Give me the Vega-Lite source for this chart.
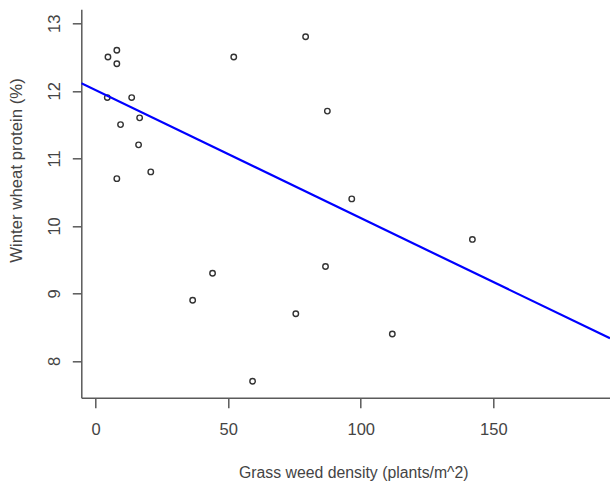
{
  "$schema": "https://vega.github.io/schema/vega-lite/v6.json",
  "autosize": {"type": "none"},
  "width": 528.7,
  "height": 388.4,
  "padding": {"left": 81.3, "top": 9.3, "right": 0, "bottom": 85.3},
  "background": "white",
  "config": {
    "view": {"stroke": null},
    "font": "Liberation Sans",
    "axis": {
      "grid": false,
      "domainColor": "#5a5a5a",
      "domainWidth": 1.5,
      "tickColor": "#5a5a5a",
      "tickWidth": 1.5,
      "labelColor": "#444444",
      "titleColor": "#444444",
      "labelFont": "Liberation Sans",
      "titleFont": "Liberation Sans",
      "labelFontSize": 16.5,
      "titleFontWeight": "normal"
    }
  },
  "datasets": {
    "points": [
      {"density": 4.65, "protein": 12.5},
      {"density": 8.0, "protein": 12.6},
      {"density": 8.0, "protein": 12.4},
      {"density": 4.4, "protein": 11.9},
      {"density": 13.6, "protein": 11.9},
      {"density": 9.4, "protein": 11.5},
      {"density": 16.6, "protein": 11.6},
      {"density": 16.2, "protein": 11.2},
      {"density": 20.8, "protein": 10.8},
      {"density": 8.0, "protein": 10.7},
      {"density": 52.1, "protein": 12.5},
      {"density": 79.2, "protein": 12.8},
      {"density": 87.4, "protein": 11.7},
      {"density": 96.6, "protein": 10.4},
      {"density": 142.1, "protein": 9.8},
      {"density": 86.7, "protein": 9.4},
      {"density": 44.1, "protein": 9.3},
      {"density": 36.6, "protein": 8.9},
      {"density": 75.5, "protein": 8.7},
      {"density": 111.9, "protein": 8.4},
      {"density": 59.2, "protein": 7.7}
    ],
    "fit": [
      {"density": -5.4, "protein": 12.112},
      {"density": 194.0, "protein": 8.336}
    ]
  },
  "layer": [
    {
      "data": {"name": "points"},
      "mark": {"type": "point", "shape": "circle", "filled": false, "stroke": "#333333", "strokeWidth": 1.4, "size": 30, "opacity": 1, "clip": true},
      "encoding": {
        "x": {
          "field": "density", "type": "quantitative",
          "scale": {"domain": [-5.4, 194.0], "nice": false, "zero": false},
          "axis": {
            "title": "Grass weed density (plants/m^2)",
            "values": [0, 50, 100, 150],
            "format": "d",
            "tickSize": 10,
            "labelPadding": 21.6,
            "labelBaseline": "middle",
            "labelAlign": "center",
            "titleFontSize": 15.8,
            "titleX": 272,
            "titleY": 75,
            "titleBaseline": "middle",
            "labelFlush": false,
            "labelOverlap": false
          }
        },
        "y": {
          "field": "protein", "type": "quantitative",
          "scale": {"domain": [7.457, 13.207], "nice": false, "zero": false},
          "axis": {
            "title": "Winter wheat protein (%)",
            "values": [8, 9, 10, 11, 12, 13],
            "format": "d",
            "tickSize": 9,
            "labelAngle": 270,
            "labelAlign": "center",
            "labelBaseline": "middle",
            "labelPadding": 18,
            "titleFontSize": 16.8,
            "titleAngle": 270,
            "titleX": -64.6,
            "titleY": 160.7,
            "titleAlign": "center",
            "titleBaseline": "middle",
            "labelFlush": false,
            "labelOverlap": false
          }
        }
      }
    },
    {
      "data": {"name": "fit"},
      "mark": {"type": "line", "color": "#0000ff", "strokeWidth": 2.2, "clip": true},
      "encoding": {
        "x": {"field": "density", "type": "quantitative"},
        "y": {"field": "protein", "type": "quantitative"}
      }
    }
  ]
}
